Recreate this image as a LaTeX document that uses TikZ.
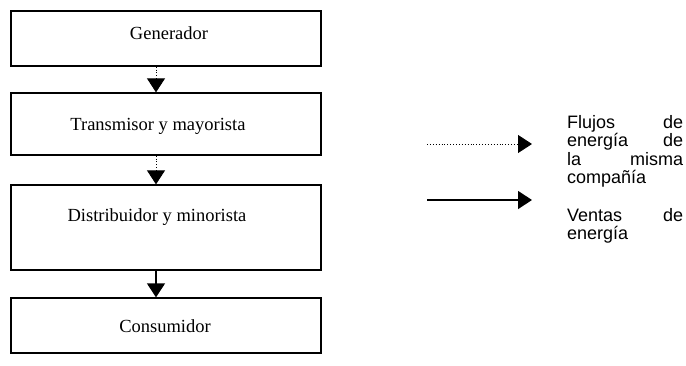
\documentclass[tikz,border=0pt]{standalone}
\usepackage{fontspec}
\setmainfont{Liberation Serif}
\setsansfont{Liberation Sans}
\usetikzlibrary{arrows.meta}
\begin{document}
\begin{tikzpicture}[x=1pt,y=-1pt,
  stage/.style={draw, line width=1.3pt, minimum width=310pt, inner sep=0pt},
  stagetext/.style={font=\fontsize{18.5}{20}\selectfont, inner sep=0pt},
  flow/.style={line width=0.9pt, dotted, -{Triangle[width=18pt,length=14pt]}},
  sale/.style={line width=1.3pt, -{Triangle[width=18pt,length=14pt]}},
  legendtext/.style={font=\sffamily\fontsize{18}{18.5}\selectfont, anchor=north west,
    inner sep=0pt, text width=116pt, align=justify}]
\useasboundingbox (0,0) rectangle (686,365);

% chain of stages
\node[stage, minimum height=55pt] (gen) at (166,38.5) {};
\node[stage, minimum height=62pt] (trans) at (166,124) {};
\node[stage, minimum height=85pt] (dist) at (166,227.5) {};
\node[stage, minimum height=55pt] (cons) at (166,325.5) {};

\node[stagetext] (tgen) at (169,33) {Generador};
\node[stagetext] (ttrans) at (158,126) {Transmisor y mayorista};
\node[stagetext] (tdist) at (157,217) {Distribuidor y minorista};
\node[stagetext] (tcons) at (165,326) {Consumidor};

% connectors between stages
\draw[flow] ([xshift=-10pt]gen.south) -- ([xshift=-10pt]trans.north);
\draw[flow] ([xshift=-10pt]trans.south) -- ([xshift=-10pt]dist.north);
\draw[sale] ([xshift=-10pt]dist.south) -- ([xshift=-10pt]cons.north);

% legend
\coordinate (fa) at (427,144);
\coordinate (fb) at (532,144);
\coordinate (sa) at (427,200);
\coordinate (sb) at (532,200);
\draw[flow] (fa) -- (fb);
\draw[sale] (sa) -- (sb);
\node[legendtext] (lflow) at (567,115) {Flujos de\linebreak energía de\linebreak la misma\linebreak compañía};
\node[legendtext] (lsale) at (567,208) {Ventas de\linebreak energía};
\end{tikzpicture}
\end{document}
